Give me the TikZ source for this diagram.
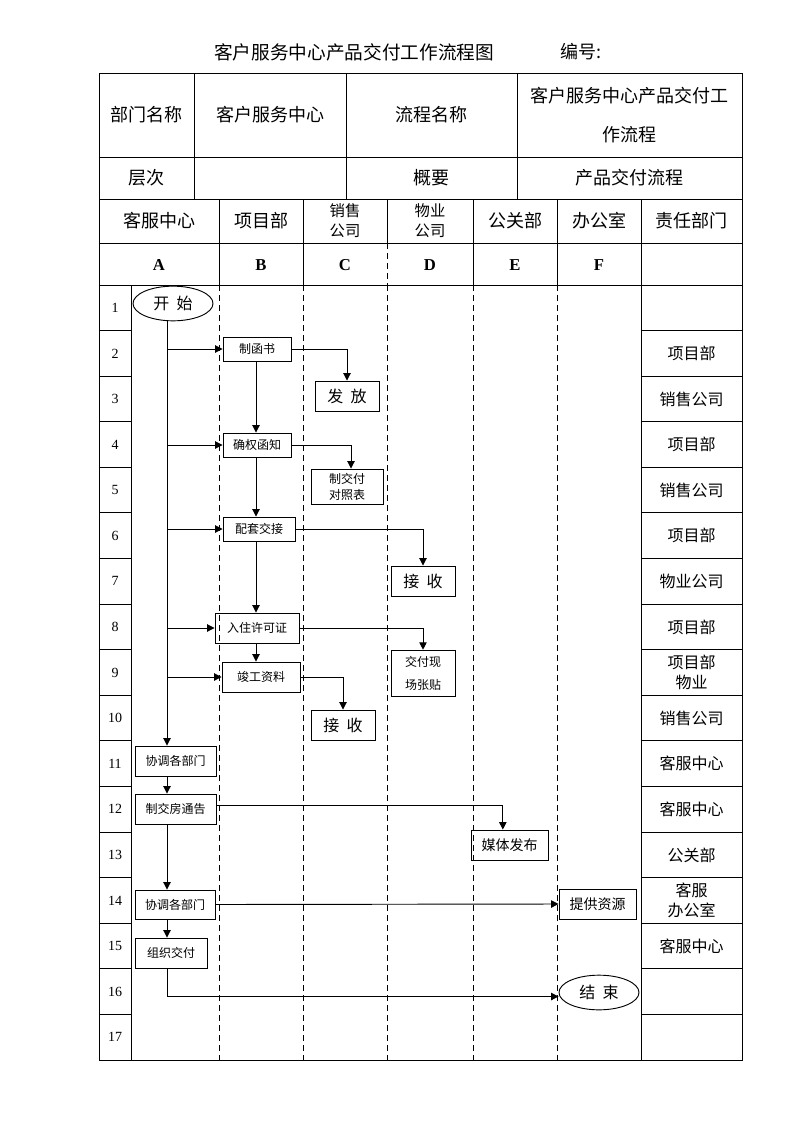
\documentclass[tikz,border=0pt]{standalone}
\usepackage{fontspec}
\setmainfont{Liberation Serif}
\newfontfamily\cjk{Noto Sans CJK SC}
\usetikzlibrary{arrows.meta,shapes.geometric}
\tikzset{
  gridline/.style={line width=0.7pt},
  laneline/.style={line width=0.7pt, dash pattern=on 4.5pt off 3pt},
  hdr/.style={font=\cjk\fontsize{13.5}{16}\selectfont, inner sep=0pt},
  hdrs/.style={font=\cjk\fontsize{11.5}{15}\selectfont, inner sep=0pt, align=center},
  resp/.style={font=\cjk\fontsize{12}{15}\selectfont, inner sep=0pt, align=center},
  letter/.style={font=\fontsize{12.5}{14}\selectfont\bfseries, inner sep=0pt},
  rownum/.style={font=\fontsize{10.5}{12}\selectfont, inner sep=0pt},
  stepbox/.style={draw, line width=0.7pt, inner sep=0pt, align=center, font=\cjk\fontsize{9}{13}\selectfont},
  bigbox/.style={stepbox, font=\cjk\fontsize{12}{14}\selectfont},
  midbox/.style={stepbox, font=\cjk\fontsize{10.5}{13}\selectfont},
  term/.style={draw, ellipse, line width=0.7pt, inner sep=0pt, font=\cjk\fontsize{12}{14}\selectfont},
  arr/.style={line width=0.7pt, -{Triangle[length=5.5pt,width=5.5pt]}},
  conn/.style={line width=0.7pt}
}
\newcommand{\gapsp}{\hspace{0.45em}}
\begin{document}
\begin{tikzpicture}[x=0.75pt,y=-0.75pt]
\useasboundingbox (0,0) rectangle (794,1123);
% title
\node[hdr, font=\cjk\fontsize{14}{16}\selectfont] (title) at (354,52) {客户服务中心产品交付工作流程图};
\node[hdr] (code) at (581,52) {编号:};
% header grid
\draw[gridline] (99,73) rectangle (742,1060);
\foreach \y in {157,199,243,285} \draw[gridline] (99,\y) -- (742,\y);
\foreach \x in {194,346,517} \draw[gridline] (\x,73) -- (\x,199);
\foreach \x in {219,303,387,473,557,641} \draw[gridline] (\x,199) -- (\x,243);
\foreach \x in {219,303,473,557,641} \draw[gridline] (\x,243) -- (\x,285);
\draw[laneline] (387,243) -- (387,285);
% body grid
\draw[gridline] (131,285) -- (131,1060);
\draw[gridline] (641,285) -- (641,1060);
\foreach \x in {219,303,387,473,557} \draw[laneline] (\x,285) -- (\x,1060);
\foreach \k in {1,...,16} {
  \draw[gridline] (99,285+45.59*\k) -- (131,285+45.59*\k);
  \draw[gridline] (641,285+45.59*\k) -- (742,285+45.59*\k);
}
% header texts
\node[hdr] (h1) at (146.5,115) {部门名称};
\node[hdr] (h2) at (270,115) {客户服务中心};
\node[hdr] (h3) at (431.5,115) {流程名称};
\node[hdr, align=center, font=\cjk\fontsize{13.5}{29}\selectfont] (h4) at (629.5,115) {客户服务中心产品交付工\\作流程};
\node[hdr] (h5) at (146.5,178) {层次};
\node[hdr] (h6) at (431.5,178) {概要};
\node[hdr] (h7) at (629.5,178) {产品交付流程};
\node[hdr] (l1) at (159,221) {客服中心};
\node[hdr] (l2) at (261,221) {项目部};
\node[hdrs] (l3) at (345,221) {销售\\公司};
\node[hdrs] (l4) at (430,221) {物业\\公司};
\node[hdr] (l5) at (515,221) {公关部};
\node[hdr] (l6) at (599,221) {办公室};
\node[hdr] (l7) at (691.5,221) {责任部门};
\node[letter] (cA) at (159,265) {A};
\node[letter] (cB) at (261,265) {B};
\node[letter] (cC) at (345,265) {C};
\node[letter] (cD) at (430,265) {D};
\node[letter] (cE) at (515,265) {E};
\node[letter] (cF) at (599,265) {F};
% row numbers
\foreach \k in {1,...,17} \node[rownum] (r\k) at (115,285+45.59*\k-22.8) {\k};
% responsibility column
\foreach \k/\t in {2/项目部,3/销售公司,4/项目部,5/销售公司,6/项目部,7/物业公司,8/项目部,9/{项目部\\物业},10/销售公司,11/客服中心,12/客服中心,13/公关部,14/{客服\\办公室},15/客服中心}
  \node[resp] (p\k) at (691.5,285+45.59*\k-22.8) {\t};
% flow nodes
\node[term, minimum width=60pt, minimum height=26pt] (start) at (173,303.5) {开\gapsp 始};
\node[stepbox, minimum width=51pt, minimum height=18pt] (f1) at (257,349) {制函书};
\node[bigbox, minimum width=48pt, minimum height=22.5pt] (f2) at (347,396) {发\gapsp 放};
\node[stepbox, minimum width=51pt, minimum height=18pt] (f3) at (257,445) {确权函知};
\node[stepbox, minimum width=54pt, minimum height=26.25pt, font=\cjk\fontsize{9}{12}\selectfont] (f4) at (347,486.5) {制交付\\对照表};
\node[stepbox, minimum width=54pt, minimum height=18pt] (f5) at (259,529) {配套交接};
\node[bigbox, minimum width=48pt, minimum height=22.5pt] (f6) at (423,581) {接\gapsp 收};
\node[stepbox, minimum width=63pt, minimum height=22.5pt] (f7) at (257,628) {入住许可证};
\node[stepbox, minimum width=58.5pt, minimum height=22.5pt] (f8) at (261,677) {竣工资料};
\node[stepbox, minimum width=48pt, minimum height=35pt, font=\cjk\fontsize{9}{17}\selectfont] (f9) at (423,673.5) {交付现\\场张贴};
\node[bigbox, minimum width=48pt, minimum height=22.5pt] (f10) at (343,725) {接\gapsp 收};
\node[stepbox, minimum width=60.75pt, minimum height=22.5pt] (f11) at (175.5,761) {协调各部门};
\node[stepbox, minimum width=60.75pt, minimum height=22.5pt] (f12) at (175.5,809) {制交房通告};
\node[midbox, minimum width=57.75pt, minimum height=22.5pt] (f13) at (509.5,845) {媒体发布};
\node[stepbox, minimum width=60pt, minimum height=21.75pt] (f14) at (175,904.5) {协调各部门};
\node[midbox, minimum width=57.75pt, minimum height=22.5pt] (f15) at (597.5,904) {提供资源};
\node[stepbox, minimum width=54pt, minimum height=22.5pt] (f16) at (171,953) {组织交付};
\node[term, minimum width=60pt, minimum height=26pt] (finish) at (599,992.5) {结\gapsp 束};
% connectors
\coordinate (trunk) at (167,300);
\coordinate (colB) at (256,300);
\draw[arr] (start.south -| trunk) -- (f11.north -| trunk);
\foreach \n in {f1,f3,f5,f7,f8} \draw[arr] (trunk |- \n.west) -- (\n.west);
\draw[arr] (f1.south -| colB) -- (f3.north -| colB);
\draw[arr] (f3.south -| colB) -- (f5.north -| colB);
\draw[arr] (f5.south -| colB) -- (f7.north -| colB);
\draw[arr] (f7.south -| colB) -- (f8.north -| colB);
\draw[arr] (f1.east) -| (f2.north);
\draw[arr] (f3.east) -| ([xshift=3pt]f4.north);
\draw[arr] (f5.east) -| (f6.north);
\draw[arr] (f7.east) -| (f9.north);
\draw[arr] (f8.east) -| (f10.north);
\draw[arr] (f11.south -| trunk) -- (f12.north -| trunk);
\draw[arr] ([yshift=3pt]f12.east) -| ([xshift=-5pt]f13.north);
\draw[arr] (f12.south -| trunk) -- (f14.north -| trunk);
\draw[arr] (f14.east) -- (f15.west);
\draw[arr] (f14.south -| trunk) -- (f16.north -| trunk);
\draw[arr] (f16.south -| trunk) |- ([yshift=-3pt]finish.west);
\end{tikzpicture}
\end{document}
